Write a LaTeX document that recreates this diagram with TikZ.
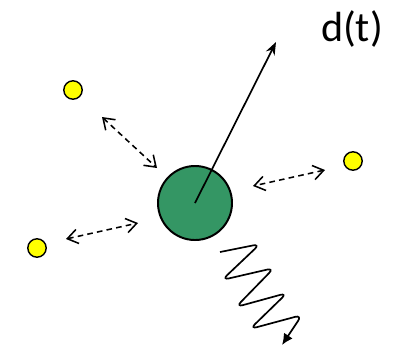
\documentclass[tikz,border=0pt]{standalone}
\usepackage{fontspec}
\setmainfont{Carlito}
\usetikzlibrary{positioning,arrows.meta,calc}
\definecolor{seagreen}{RGB}{52,150,100}
\definecolor{dotyellow}{RGB}{255,255,0}
\tikzset{
  particle/.style={draw=black, line width=1.4pt, circle, fill=seagreen, minimum size=1.85cm, inner sep=0pt},
  dot/.style={draw=black, line width=1pt, circle, fill=dotyellow, minimum size=0.46cm, inner sep=0pt},
  arrow/.style={-{Stealth[length=3.2mm, width=2.4mm]}, line width=1.2pt},
  biarrow/.style={{Straight Barb[length=2.6mm, width=3.6mm]}-{Straight Barb[length=2.6mm, width=3.6mm]}, line width=1.1pt, dash pattern=on 4pt off 3pt},
  wave/.style={line width=1.2pt, rounded corners=5pt, -{Latex[length=2.8mm, width=2.6mm]}},
  lbl/.style={font=\fontsize{30}{34}\selectfont, inner sep=0pt}
}
\begin{document}
\begin{tikzpicture}[x=0.025cm, y=-0.025cm]
    \useasboundingbox (0,0) rectangle (400,351);
    % particle and neighbours
    \node[particle] (body) at (195,203) {};
    \node[dot] (p1) at (73,90) {};
    \node[dot] (p2) at (353,161) {};
    \node[dot] (p3) at (37,248) {};
    \node[lbl] (d) at (352,29) {d(t)};
    % interaction ends
    \coordinate (a1) at (102,117);
    \coordinate (b1) at (157,168);
    \coordinate (a2) at (325,170);
    \coordinate (b2) at (253,186);
    \coordinate (a3) at (66,239);
    \coordinate (b3) at (138,223);
    \coordinate (tip) at (276,42);
    \draw[biarrow] (a1) -- (b1);
    \draw[biarrow] (a2) -- (b2);
    \draw[biarrow] (a3) -- (b3);
    \draw[arrow] (body.center) -- (tip);
    % emitted wave
    \draw[wave] (220,252) -- (260,244) -- (222,280) -- (274,268) -- (236,307)
      -- (287,293) -- (250,329) -- (302,315) -- (282,345);
\end{tikzpicture}
\end{document}
